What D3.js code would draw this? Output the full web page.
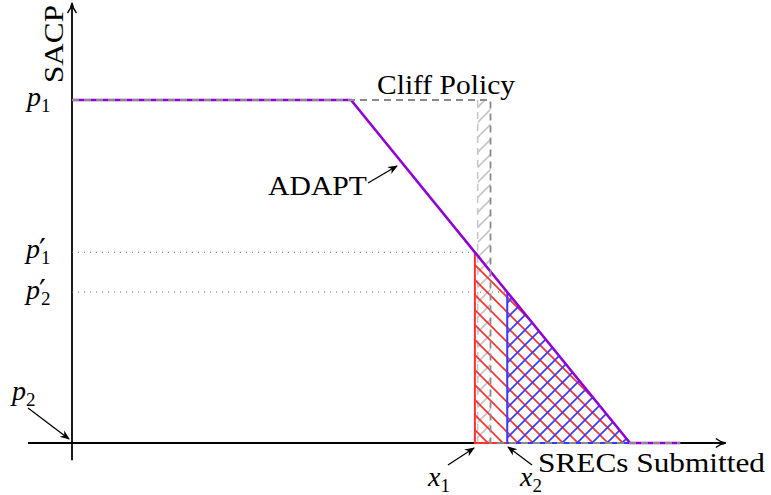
<!DOCTYPE html>
<html>
<head>
<meta charset="utf-8">
<script src="https://cdn.jsdelivr.net/npm/d3@7"></script>
<style>
  html, body { margin: 0; padding: 0; background: #fff; }
  svg { display: block; }
  text { font-family: "Liberation Serif", "DejaVu Serif", serif; fill: #000; }
</style>
</head>
<body>
<svg id="chart" width="771" height="495"></svg>
<script>
// ADAPT price schedule: flat at p1, linear decline, zero beyond the end
const adaptX = [0, 0.5, 1.0, 1.09];
const adaptY = [1, 1, 0, 0];
// Cliff policy: flat at p1 until the cliff, then drops to p2 = 0
const cliffX = [0, 0.75, 0.75, 1.09];
const cliffY = [1, 1, 0, 0];
// Gray strip just left of the cliff
const stripX = [0.727, 0.75];
// Submitted quantities x1 and x2
const submittedX = [0.722, 0.78];
const submittedNames = ["1", "2"];
// Axis extents in data units
const xExtent = [-0.079, 1.17];
const yExtent = [-0.05, 1.28];

const svg = d3.select("#chart");
const x = d3.scaleLinear().domain([0, 1]).range([72, 630]);
const y = d3.scaleLinear().domain([0, 1]).range([443, 100]);

const purple = "#8f00d8", red = "#ff3030", blue = "#3838ff", gray = "#8a8a8a";

// price on the ADAPT curve at a given quantity
const adaptPrice = q => {
  for (let i = 0; i < adaptX.length - 1; i++) {
    if (q >= adaptX[i] && q <= adaptX[i + 1]) {
      const t = (q - adaptX[i]) / (adaptX[i + 1] - adaptX[i]);
      return adaptY[i] + t * (adaptY[i + 1] - adaptY[i]);
    }
  }
  return 0;
};
const submittedP = submittedX.map(adaptPrice);

const defs = svg.append("defs");
function hatch(id, color, dir, width) {
  const s = 15;
  const p = defs.append("pattern").attr("id", id)
    .attr("patternUnits", "userSpaceOnUse").attr("width", s).attr("height", s);
  const segs = dir === "ne"
    ? [[0, s, s, 0], [-s, s, s, -s], [0, 2 * s, 2 * s, 0]]
    : [[0, 0, s, s], [-s, 0, s, 2 * s], [0, -s, 2 * s, s]];
  segs.forEach(d => p.append("line")
    .attr("x1", d[0]).attr("y1", d[1]).attr("x2", d[2]).attr("y2", d[3])
    .attr("stroke", color).attr("stroke-width", width));
}
hatch("hGray", "#c4c4c4", "ne", 1.6);
hatch("hRed", red, "nw", 1.7);
hatch("hBlue", blue, "ne", 1.7);

defs.append("marker").attr("id", "arrowSmall")
  .attr("viewBox", "0 0 10 10").attr("refX", 9).attr("refY", 5)
  .attr("markerWidth", 10).attr("markerHeight", 10)
  .attr("markerUnits", "userSpaceOnUse").attr("orient", "auto")
  .append("path").attr("d", "M0,1 L10,5 L0,9 L3,5 Z").attr("fill", "#000");
defs.append("marker").attr("id", "arrowAxis")
  .attr("viewBox", "0 0 12 12").attr("refX", 10).attr("refY", 6)
  .attr("markerWidth", 12).attr("markerHeight", 12)
  .attr("markerUnits", "userSpaceOnUse").attr("orient", "auto")
  .append("path").attr("d", "M1,1.5 Q5,5 11,6 Q5,7 1,10.5")
  .attr("fill", "none").attr("stroke", "#000").attr("stroke-width", 1.4);

const line = d3.line().x(d => x(d[0])).y(d => y(d[1]));

// axes
svg.append("line")
  .attr("x1", x(xExtent[0])).attr("x2", x(xExtent[1]))
  .attr("y1", y(0)).attr("y2", y(0))
  .attr("stroke", "#000").attr("stroke-width", 1.8).attr("marker-end", "url(#arrowAxis)");
svg.append("line")
  .attr("x1", x(0)).attr("x2", x(0))
  .attr("y1", y(yExtent[0])).attr("y2", y(yExtent[1]))
  .attr("stroke", "#000").attr("stroke-width", 1.8).attr("marker-end", "url(#arrowAxis)");

// gray strip
svg.append("rect")
  .attr("x", x(stripX[0])).attr("y", y(1))
  .attr("width", x(stripX[1]) - x(stripX[0])).attr("height", y(0) - y(1))
  .attr("fill", "url(#hGray)");
svg.append("line")
  .attr("x1", x(stripX[0])).attr("x2", x(stripX[0]))
  .attr("y1", y(1)).attr("y2", y(0))
  .attr("stroke", "#c8c8c8").attr("stroke-width", 1.6).attr("stroke-dasharray", "7,5");

// dotted guides at p1' and p2'
submittedX.forEach((q, i) => {
  svg.append("line")
    .attr("x1", x(0)).attr("x2", x(q))
    .attr("y1", y(submittedP[i])).attr("y2", y(submittedP[i]))
    .attr("stroke", "#666").attr("stroke-width", 1).attr("stroke-dasharray", "1,5");
});

// shaded regions under the curve from x1 and from x2
const fills = ["hRed", "hBlue"], strokes = [red, blue];
submittedX.forEach((q, i) => {
  const poly = [[q, submittedP[i]], [q, 0], [1, 0], [q, submittedP[i]]];
  svg.append("path").attr("d", line(poly)).attr("fill", `url(#${fills[i]})`);
  svg.append("path").attr("d", line(poly.slice(0, 3)))
    .attr("fill", "none").attr("stroke", strokes[i]).attr("stroke-width", 2);
});

// ADAPT curve
svg.append("path")
  .attr("d", line(adaptX.map((v, i) => [v, adaptY[i]])))
  .attr("fill", "none").attr("stroke", purple).attr("stroke-width", 2.6);

// cliff policy
svg.append("path")
  .attr("d", line(cliffX.map((v, i) => [v, cliffY[i]])))
  .attr("fill", "none").attr("stroke", gray).attr("stroke-width", 1.8)
  .attr("stroke-dasharray", "7,5");

// text labels
const fs = 28;
function mathLabel(xp, yp, sym, sub, prime) {
  const t = svg.append("text").attr("x", xp).attr("y", yp).attr("font-size", fs);
  t.append("tspan").attr("font-style", "italic").text(sym);
  if (prime) {
    t.append("tspan").attr("font-family", "DejaVu Serif").attr("font-size", 30)
      .attr("dx", -1).attr("dy", 2).text("\u2032");
    t.append("tspan").attr("x", xp + 15).attr("dy", 4).attr("font-size", 19).text(sub);
  } else {
    t.append("tspan").attr("dy", 6).attr("font-size", 19).text(sub);
  }
}
mathLabel(27, 106, "p", "1", false);
mathLabel(26, 258, "p", "1", true);
mathLabel(26, 299, "p", "2", true);
mathLabel(12, 400, "p", "2", false);
mathLabel(428, 486, "x", submittedNames[0], false);
mathLabel(520, 486, "x", submittedNames[1], false);

svg.append("text").attr("x", 377).attr("y", 94).attr("font-size", fs)
  .attr("textLength", 138).attr("lengthAdjust", "spacingAndGlyphs").text("Cliff Policy");
svg.append("text").attr("x", 268).attr("y", 195).attr("font-size", fs)
  .attr("textLength", 99).attr("lengthAdjust", "spacingAndGlyphs").text("ADAPT");
svg.append("text").attr("x", 538).attr("y", 472).attr("font-size", fs)
  .attr("textLength", 227).attr("lengthAdjust", "spacingAndGlyphs").text("SRECs Submitted");
svg.append("text").attr("transform", "translate(63,44) rotate(-90)")
  .attr("text-anchor", "middle").attr("font-size", fs)
  .attr("textLength", 78).attr("lengthAdjust", "spacingAndGlyphs").text("SACP");

// pointer arrows
const arrows = [
  [368, 183, 397, 166],
  [28, 408, 69, 439],
  [448, 465, 474, 448],
  [532, 465, 508, 447]
];
arrows.forEach(a => svg.append("line")
  .attr("x1", a[0]).attr("y1", a[1]).attr("x2", a[2]).attr("y2", a[3])
  .attr("stroke", "#000").attr("stroke-width", 1.3).attr("marker-end", "url(#arrowSmall)"));
</script>
</body>
</html>
